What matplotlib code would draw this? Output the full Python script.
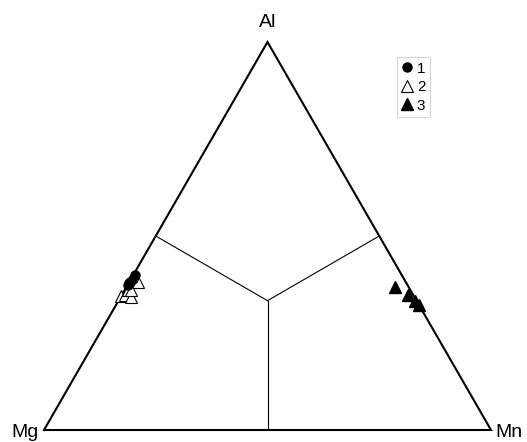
import matplotlib
matplotlib.use("Agg")
import matplotlib.pyplot as plt
from matplotlib.lines import Line2D

plt.rcParams['font.family'] = ['Liberation Sans', 'DejaVu Sans']

# Ternary data: fractions (Mg, Mn, Al)
s1_mg = [0.625, 0.616, 0.606, 0.596, 0.620]
s1_mn = [0.000, 0.002, 0.004, 0.004, 0.002]
s1_al = [0.375, 0.382, 0.390, 0.400, 0.378]

s2_mg = [0.600, 0.655, 0.645, 0.634, 0.631, 0.625]
s2_mn = [0.019, 0.000, 0.007, 0.023, 0.008, 0.013]
s2_al = [0.381, 0.345, 0.348, 0.343, 0.361, 0.362]

s3_mg = [0.030, 0.012, 0.004, 0.000]
s3_mn = [0.601, 0.640, 0.664, 0.678]
s3_al = [0.369, 0.348, 0.332, 0.322]

labels = ["1", "2", "3"]
vertex_names = ["Mg", "Mn", "Al"]

# Layout (pixels)
W, H = 527, 442
P_MG = (44.0, 430.0)
P_MN = (491.0, 430.0)
P_AL = (267.5, 42.0)

def tern(mg, mn, al):
    xs, ys = [], []
    for a, b, c in zip(mg, mn, al):
        s = a + b + c
        a, b, c = a / s, b / s, c / s
        xs.append(a * P_MG[0] + b * P_MN[0] + c * P_AL[0])
        ys.append(a * P_MG[1] + b * P_MN[1] + c * P_AL[1])
    return xs, ys

fig = plt.figure(figsize=(W / 100, H / 100), dpi=100)
ax = fig.add_axes([0, 0, 1, 1])
ax.set_xlim(0, W)
ax.set_ylim(H, 0)
ax.axis('off')

# triangle outline
tx, ty = tern([1, 0, 0, 1], [0, 1, 0, 0], [0, 0, 1, 0])
ax.plot(tx, ty, color='black', lw=1.5, solid_joinstyle='miter', zorder=2)

# inner boundary lines from centroid to edge midpoints
cx, cy = tern([1], [1], [1])
for m in ([0.5, 0, 0.5], [0, 0.5, 0.5], [0.5, 0.5, 0]):
    mx, my = tern([m[0]], [m[1]], [m[2]])
    ax.plot([cx[0], mx[0]], [cy[0], my[0]], color='black', lw=0.8, zorder=1)

MS_C, MS_T = 6.5, 8
x1, y1 = tern(s1_mg, s1_mn, s1_al)
x2, y2 = tern(s2_mg, s2_mn, s2_al)
x3, y3 = tern(s3_mg, s3_mn, s3_al)
ax.plot(x2, y2, linestyle='none', marker='^', ms=MS_T, mfc='white', mec='black', mew=0.8, zorder=3)
ax.plot(x1, y1, linestyle='none', marker='o', ms=MS_C, mfc='black', mec='black', zorder=4)
ax.plot(x3, y3, linestyle='none', marker='^', ms=MS_T, mfc='black', mec='black', zorder=4)

# vertex labels
ax.text(P_AL[0], 27, vertex_names[2], ha='center', va='baseline', fontsize=14)
ax.text(39, 437, vertex_names[0], ha='right', va='baseline', fontsize=14)
ax.text(495, 437, vertex_names[1], ha='left', va='baseline', fontsize=14)

handles = [
    Line2D([], [], linestyle='none', marker='o', ms=MS_C, mfc='black', mec='black'),
    Line2D([], [], linestyle='none', marker='^', ms=MS_T, mfc='white', mec='black', mew=0.8),
    Line2D([], [], linestyle='none', marker='^', ms=MS_T, mfc='black', mec='black'),
]
leg = ax.legend(handles, labels, loc='upper left',
                bbox_to_anchor=(397 / W, 1 - 57 / H), bbox_transform=ax.transAxes,
                fontsize=11, frameon=True, fancybox=False, borderpad=0.3,
                handlelength=0.7, handletextpad=0.3, labelspacing=0.3,
                borderaxespad=0)
leg.get_frame().set_edgecolor('#cccccc')
leg.get_frame().set_linewidth(0.8)

fig.savefig('out.png', dpi=100)
